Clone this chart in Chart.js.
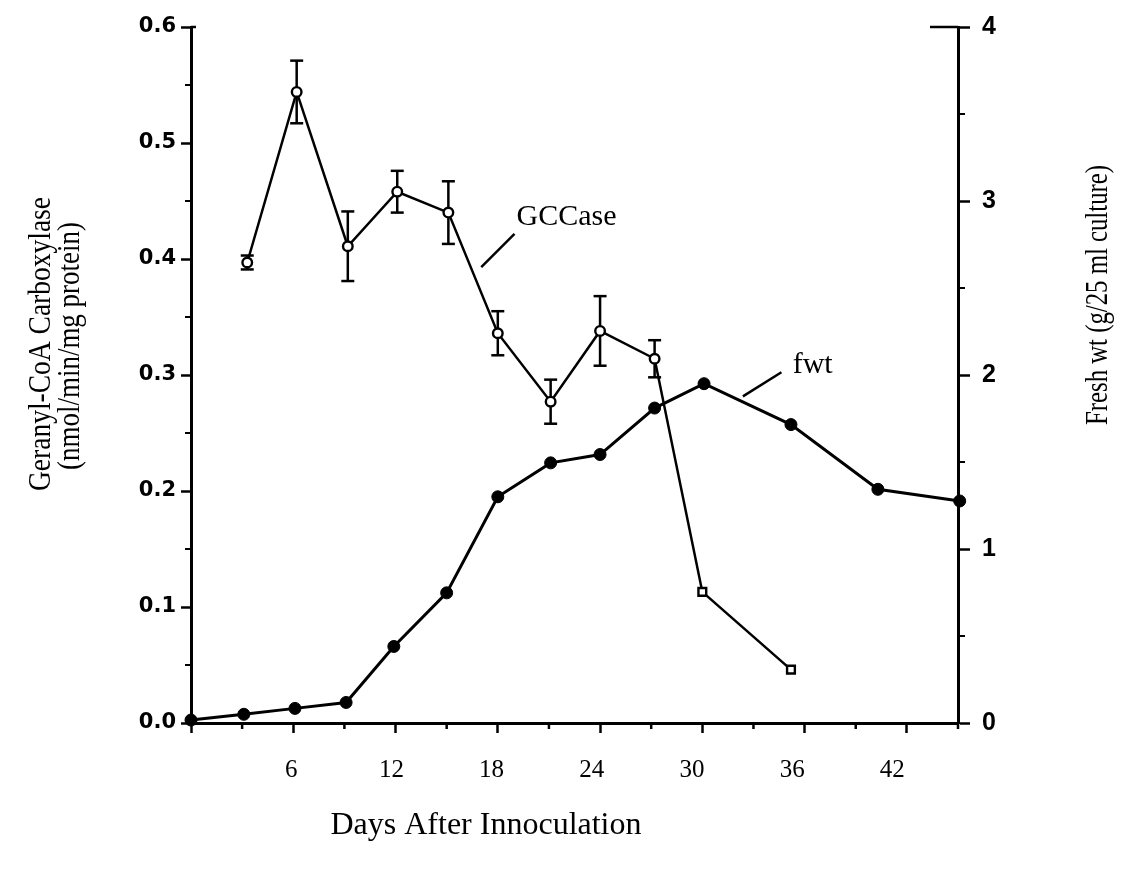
<!DOCTYPE html>
<html>
<head>
<meta charset="utf-8">
<script src="https://cdn.jsdelivr.net/npm/chart.js@4.4.1/dist/chart.umd.min.js"></script>
<style>
  html, body { margin: 0; padding: 0; background: #fff; }
  #wrap { width: 1123px; height: 878px; position: relative; }
</style>
</head>
<body>
<div id="wrap"><canvas id="gcc-chart"></canvas></div>
<script>
/* ===== DATA ===== */
// GCCase activity (left axis), mean ± error
const gccDays = [3.3, 6.2, 9.2, 12.1, 15.1, 18.0, 21.1, 24.0, 27.2, 30.0, 35.2];
const gccValues = [0.397, 0.544, 0.411, 0.458, 0.440, 0.336, 0.277, 0.338, 0.314, 0.113, 0.046];
const gccErrors = [0.006, 0.027, 0.030, 0.018, 0.027, 0.019, 0.019, 0.030, 0.016, 0, 0];
const gccMarkers = ["circle", "circle", "circle", "circle", "circle", "circle", "circle", "circle", "circle", "rect", "rect"];

// fresh weight (right axis)
const fwtDays = [0, 3.1, 6.1, 9.1, 11.9, 15.0, 18.0, 21.1, 24.0, 27.2, 30.1, 35.2, 40.3, 45.1];
const fwtValues = [0.017, 0.05, 0.084, 0.118, 0.44, 0.748, 1.30, 1.495, 1.543, 1.81, 1.95, 1.715, 1.343, 1.276];

// axis ranges / ticks
const dayRange = [0, 45];
const dayLabelStep = 6;
const dayMinorTicks = [3, 9, 15, 21, 27, 33, 39, 45];
const gccRange = [0, 0.6];
const gccMinorTicks = [0.05, 0.15, 0.25, 0.35, 0.45, 0.55];
const fwtRange = [0, 4];
const fwtMinorTicks = [0.5, 1.5, 2.5, 3.5];

const SERIF = '"Liberation Serif", "Times New Roman", serif';

/* ===== HELPERS ===== */
function drawCondensed(ctx, text, cx, cy, targetLen, font) {
  ctx.save();
  ctx.font = font;
  const w = ctx.measureText(text).width;
  ctx.translate(cx, cy);
  ctx.rotate(-Math.PI / 2);
  ctx.scale(targetLen / w, 1);
  ctx.textAlign = "center";
  ctx.textBaseline = "middle";
  ctx.fillText(text, 0, 0);
  ctx.restore();
}

function line(ctx, x1, y1, x2, y2, width) {
  ctx.lineWidth = width;
  ctx.beginPath();
  ctx.moveTo(x1, y1);
  ctx.lineTo(x2, y2);
  ctx.stroke();
}

/* ===== PLUGIN: error bars, minor ticks, labels ===== */
const extras = {
  id: "extras",
  beforeDatasetsDraw(chart) {
    const { ctx } = chart;
    const x = chart.scales.x, y = chart.scales.y;
    ctx.save();
    ctx.strokeStyle = "#000";
    gccDays.forEach((d, i) => {
      const e = gccErrors[i];
      if (!e) return;
      const px = x.getPixelForValue(d);
      const top = y.getPixelForValue(gccValues[i] + e);
      const bot = y.getPixelForValue(gccValues[i] - e);
      line(ctx, px, top, px, bot, 2.5);
      line(ctx, px - 6.5, top, px + 6.5, top, 2.5);
      line(ctx, px - 6.5, bot, px + 6.5, bot, 2.5);
    });
    ctx.restore();
  },
  afterDraw(chart) {
    const { ctx, chartArea: a } = chart;
    const x = chart.scales.x, y = chart.scales.y, y2 = chart.scales.y2;
    ctx.save();
    ctx.strokeStyle = "#000";
    ctx.fillStyle = "#000";

    // minor ticks
    dayMinorTicks.forEach((d) => {
      const px = x.getPixelForValue(d);
      line(ctx, px, a.bottom, px, a.bottom + 6, 2.5);
    });
    gccMinorTicks.forEach((v) => {
      const py = y.getPixelForValue(v);
      line(ctx, a.left - 6, py, a.left, py, 2);
    });
    fwtMinorTicks.forEach((v) => {
      const py = y2.getPixelForValue(v);
      line(ctx, a.right, py, a.right + 7, py, 2);
    });
    // short stubs at the top corners
    line(ctx, a.left, a.top, a.left + 5, a.top, 2.5);
    line(ctx, a.right - 28, a.top, a.right, a.top, 2.5);

    // series labels with leader lines
    line(ctx, x.getPixelForValue(17.03), y.getPixelForValue(0.393),
      x.getPixelForValue(18.98), y.getPixelForValue(0.4217), 2.5);
    line(ctx, x.getPixelForValue(32.38), y2.getPixelForValue(1.877),
      x.getPixelForValue(34.64), y2.getPixelForValue(2.016), 2.5);
    ctx.font = "30px " + SERIF;
    ctx.textAlign = "left";
    ctx.textBaseline = "alphabetic";
    ctx.fillText("GCCase", x.getPixelForValue(19.1), y.getPixelForValue(0.429));
    ctx.fillText("fwt", x.getPixelForValue(35.3), y2.getPixelForValue(2.01));

    // axis titles
    ctx.font = "32px " + SERIF;
    ctx.textAlign = "center";
    ctx.textBaseline = "middle";
    ctx.fillText("Days After Innoculation", 486, 826);
    drawCondensed(ctx, "Geranyl-CoA Carboxylase", 42, 344, 294, "32px " + SERIF);
    drawCondensed(ctx, "(nmol/min/mg protein)", 71, 346, 248, "32px " + SERIF);
    drawCondensed(ctx, "Fresh wt (g/25 ml culture)", 1099, 295, 260, "32px " + SERIF);
    ctx.restore();
  },
};

/* ===== CHART ===== */
const gccPoints = gccDays.map((d, i) => ({ x: d, y: gccValues[i] }));
const fwtPoints = fwtDays.map((d, i) => ({ x: d, y: fwtValues[i] }));

const axisLine = { color: "#000", width: 3 };
const tickMarks = (len) => ({
  drawOnChartArea: false,
  drawTicks: true,
  tickLength: len,
  tickWidth: 2.5,
  tickColor: "#000",
});

new Chart(document.getElementById("gcc-chart"), {
  type: "scatter",
  data: {
    datasets: [
      {
        label: "GCCase",
        data: gccPoints,
        yAxisID: "y",
        showLine: true,
        borderColor: "#000",
        borderWidth: 2.5,
        pointStyle: gccMarkers,
        pointRadius: gccMarkers.map((m) => (m === "rect" ? 5.5 : 4.8)),
        pointBackgroundColor: "#fff",
        pointBorderColor: "#000",
        pointBorderWidth: 2.4,
        clip: false,
      },
      {
        label: "fwt",
        data: fwtPoints,
        yAxisID: "y2",
        showLine: true,
        borderColor: "#000",
        borderWidth: 3,
        pointStyle: "circle",
        pointRadius: 6,
        pointBackgroundColor: "#000",
        pointBorderColor: "#000",
        pointBorderWidth: 1,
        clip: false,
      },
    ],
  },
  options: {
    responsive: true,
    maintainAspectRatio: false,
    animation: false,
    layout: { padding: { top: 24, left: 0, right: 0, bottom: 0 } },
    plugins: {
      legend: { display: false },
      tooltip: { enabled: false },
    },
    scales: {
      x: {
        type: "linear",
        position: "bottom",
        min: dayRange[0],
        max: dayRange[1],
        weight: 0,
        border: axisLine,
        grid: tickMarks(10),
        ticks: { stepSize: dayLabelStep, includeBounds: false, display: false },
        afterFit: (s) => { s.height = 10; },
      },
      xLabels: {
        type: "linear",
        position: "bottom",
        min: 0,
        max: 45.93,
        weight: 1,
        border: { display: false },
        grid: { display: false, drawTicks: false },
        ticks: {
          stepSize: dayLabelStep,
          includeBounds: false,
          autoSkip: false,
          maxRotation: 0,
          padding: 22,
          color: "#000",
          font: { family: SERIF, size: 25 },
          callback: (v) => (v === 0 ? "" : v),
        },
        afterFit: (s) => { s.height = 145; },
      },
      y: {
        type: "linear",
        position: "left",
        min: gccRange[0],
        max: gccRange[1],
        border: axisLine,
        grid: tickMarks(10),
        ticks: {
          stepSize: 0.1,
          padding: 5,
          color: "#000",
          font: { family: '"DejaVu Sans", sans-serif', size: 21, weight: "bold" },
          callback: (v) => v.toFixed(1),
        },
        afterFit: (s) => { s.width = 191; },
      },
      y2: {
        type: "linear",
        position: "right",
        min: fwtRange[0],
        max: fwtRange[1],
        border: axisLine,
        grid: tickMarks(12),
        ticks: {
          stepSize: 1,
          padding: 12,
          color: "#000",
          font: { family: '"Liberation Sans", Arial, sans-serif', size: 25, weight: "bold" },
        },
        afterFit: (s) => { s.width = 165; },
      },
    },
  },
  plugins: [extras],
});
</script>
</body>
</html>
